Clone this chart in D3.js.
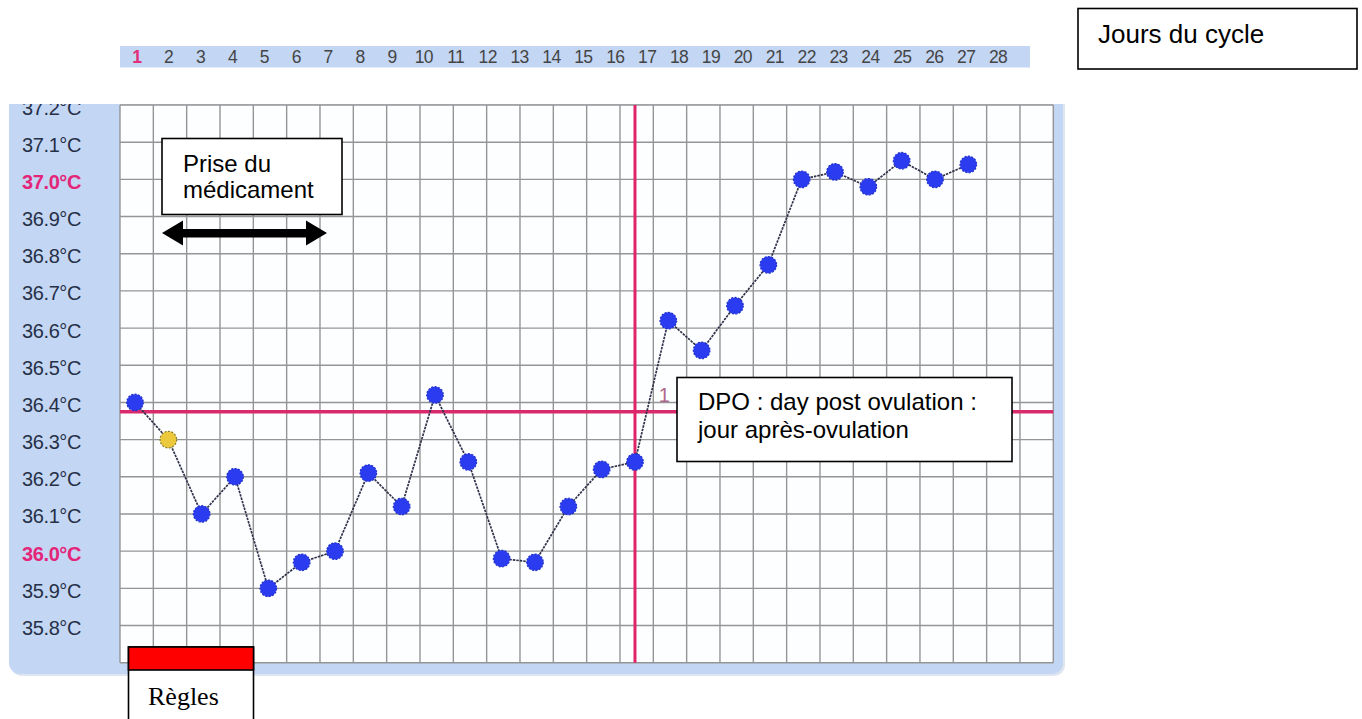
<!DOCTYPE html>
<html><head><meta charset="utf-8">
<script src="https://cdn.jsdelivr.net/npm/d3@7"></script>
<style>html,body{margin:0;padding:0;background:#fff;} svg{display:block;}</style>
</head><body>
<script>
// ---------- data ----------
const dayLabels = [1,2,3,4,5,6,7,8,9,10,11,12,13,14,15,16,17,18,19,20,21,22,23,24,25,26,27,28];
const temperatures = [36.40,36.30,36.10,36.20,35.90,35.97,36.00,36.21,36.12,36.42,36.24,35.98,35.97,36.12,36.22,36.24,36.62,36.54,36.66,36.77,37.00,37.02,36.98,37.05,37.00,37.04];
const yTickValues = [37.2,37.1,37.0,36.9,36.8,36.7,36.6,36.5,36.4,36.3,36.2,36.1,36.0,35.9,35.8];
const gridValues = [35.7,35.8,35.9,36.0,36.1,36.2,36.3,36.4,36.5,36.6,36.7,36.8,36.9,37.0,37.1,37.2];
const highlightedTicks = [37.0, 36.0];
const highlightedDay = 1;
const spottingDays = [2];
const coverlineTemp = 36.375;
const ovulationDay = 16;
const dpoLabels = [{day:17, text:"1"}];
const noteCycle = "Jours du cycle";
const noteMedication = ["Prise du", "médicament"];
const noteDPO = ["DPO : day post ovulation :", "jour après-ovulation"];
const noteRegles = "Règles";

// ---------- layout ----------
const W = 1362, H = 719;
const plot = {left:120, right:1053.3, top:105, bottom:662.7};
const svg = d3.select("body").append("svg").attr("width", W).attr("height", H);

const x = d3.scaleBand().domain(dayLabels).range([plot.left, plot.right]);
const cx = d => x(d) + x.bandwidth() * 0.45;
const y = d3.scaleLinear().domain([35.7, 37.2]).range([plot.bottom, plot.top]);
const xTop = d3.scaleBand().domain(dayLabels).range([120.8, 1014]);

// ---------- top day strip ----------
svg.append("rect").attr("x",120).attr("y",46).attr("width",910).attr("height",21.5).attr("fill","#c3d6f3");
const topAxis = svg.append("g").attr("transform","translate(0,63)")
  .call(d3.axisTop(xTop).tickSize(0).tickPadding(0));
topAxis.select(".domain").remove();
topAxis.selectAll("text")
  .attr("font-family","'Liberation Sans', Arial, sans-serif")
  .attr("font-size",17.5)
  .attr("letter-spacing","-0.6")
  .attr("fill", d => d === highlightedDay ? "#e0307a" : "#454545")
  .attr("font-weight", d => d === highlightedDay ? "bold" : "normal");

// ---------- chart panel ----------
const defs = svg.append("defs");
defs.append("clipPath").attr("id","clipTop").append("rect").attr("x",0).attr("y",104).attr("width",W).attr("height",H);
const panel = svg.append("g").attr("clip-path","url(#clipTop)");
panel.append("rect").attr("x",11).attr("y",82).attr("width",1054).attr("height",594).attr("rx",11).attr("fill","#dfe6ef");
panel.append("rect").attr("x",9).attr("y",80).attr("width",1054).attr("height",594).attr("rx",11).attr("fill","#c3d6f3");
panel.append("rect").attr("x",plot.left).attr("y",plot.top).attr("width",plot.right-plot.left).attr("height",plot.bottom-plot.top).attr("fill","#fdfeff");

// grid
const grid = panel.append("g").attr("stroke","#959595").attr("stroke-width",1.4);
grid.selectAll("line.v").data(dayLabels.concat(["end"])).join("line")
  .attr("x1", d => d === "end" ? plot.right : x(d))
  .attr("x2", d => d === "end" ? plot.right : x(d))
  .attr("y1", plot.top).attr("y2", plot.bottom);
grid.selectAll("line.h").data(gridValues).join("line")
  .attr("x1", plot.left).attr("x2", plot.right)
  .attr("y1", d => y(d)).attr("y2", d => y(d));

// coverline & ovulation line
panel.append("line").attr("x1",plot.left).attr("x2",plot.right)
  .attr("y1",y(coverlineTemp)).attr("y2",y(coverlineTemp))
  .attr("stroke","#d92a6e").attr("stroke-width",3.5);
panel.append("line").attr("x1",cx(ovulationDay)).attr("x2",cx(ovulationDay))
  .attr("y1",plot.top).attr("y2",plot.bottom)
  .attr("stroke","#df2468").attr("stroke-width",3);

// DPO labels
panel.selectAll("text.dpo").data(dpoLabels).join("text")
  .attr("x", d => cx(d.day) - 4).attr("y", y(coverlineTemp) - 10)
  .attr("text-anchor","middle")
  .attr("font-family","'Liberation Sans', Arial, sans-serif").attr("font-size",20)
  .attr("fill","#b0658a").text(d => d.text);

// y axis labels
const yAxis = panel.append("g").attr("transform",`translate(${plot.left},0)`)
  .call(d3.axisLeft(y).tickValues(yTickValues).tickSize(0).tickPadding(39).tickFormat(d => d.toFixed(1) + "°C"));
yAxis.select(".domain").remove();
yAxis.selectAll("text")
  .attr("dy","0.45em")
  .attr("font-family","'Liberation Sans', Arial, sans-serif")
  .attr("font-size",20)
  .attr("letter-spacing","-0.4")
  .attr("fill", d => highlightedTicks.some(h => Math.abs(h-d) < 1e-6) ? "#e3267a" : "#263047")
  .attr("font-weight", d => highlightedTicks.some(h => Math.abs(h-d) < 1e-6) ? "bold" : "normal");

// connecting line
const series = temperatures.map((t,i) => ({day: dayLabels[i], temp: t}));
panel.append("path").datum(series)
  .attr("fill","none").attr("stroke","#30324a").attr("stroke-width",1.7).attr("stroke-dasharray","2.5,1")
  .attr("d", d3.line().x(d => cx(d.day)).y(d => y(d.temp)));

// dots
panel.selectAll("circle.pt").data(series).join("circle")
  .attr("cx", d => cx(d.day)).attr("cy", d => y(d.temp)).attr("r", 8.3)
  .attr("fill", d => spottingDays.includes(d.day) ? "#ecc93c" : "#2b3cf0")
  .attr("stroke", d => spottingDays.includes(d.day) ? "#8a7a2a" : "#2030c8")
  .attr("stroke-width", 1.2)
  .attr("stroke-dasharray", "2,1.5");

// ---------- annotations ----------
const font = "'Liberation Sans', Arial, sans-serif";
function box(x0, y0, w, h) {
  svg.append("rect").attr("x",x0).attr("y",y0).attr("width",w).attr("height",h)
    .attr("fill","#fff").attr("stroke","#000").attr("stroke-width",1.6);
}
// Jours du cycle
box(1078, 8.5, 279, 60.5);
svg.append("text").attr("x",1098).attr("y",43).attr("font-family",font).attr("font-size",26).attr("fill","#000").text(noteCycle);

// Prise du médicament
box(162, 138.5, 180, 76);
svg.append("g").selectAll("text").data(noteMedication).join("text")
  .attr("x",183).attr("y",(d,i)=>171.5 + i*26.5).attr("font-family",font).attr("font-size",24).attr("fill","#000").text(d=>d);
svg.append("path")
  .attr("d","M162,233 L183,220.5 L183,229 L306,229 L306,220.5 L327,233 L306,245.5 L306,237.5 L183,237.5 L183,245.5 Z")
  .attr("fill","#000");

// DPO
box(677, 377.5, 335, 84);
svg.append("g").selectAll("text").data(noteDPO).join("text")
  .attr("x",698).attr("y",(d,i)=>410 + i*28).attr("font-family",font).attr("font-size",24).attr("fill","#000").text(d=>d);

// Règles
svg.append("rect").attr("x",128.5).attr("y",647).attr("width",125).attr("height",80)
  .attr("fill","#fff").attr("stroke","#000").attr("stroke-width",1.6);
svg.append("rect").attr("x",128.5).attr("y",647).attr("width",125).attr("height",23)
  .attr("fill","#ff0000").attr("stroke","#000").attr("stroke-width",1.6);
svg.append("text").attr("x",148).attr("y",705).attr("font-family","'Liberation Serif', 'Times New Roman', serif")
  .attr("font-size",26).attr("fill","#000").text(noteRegles);
</script>
</body></html>
